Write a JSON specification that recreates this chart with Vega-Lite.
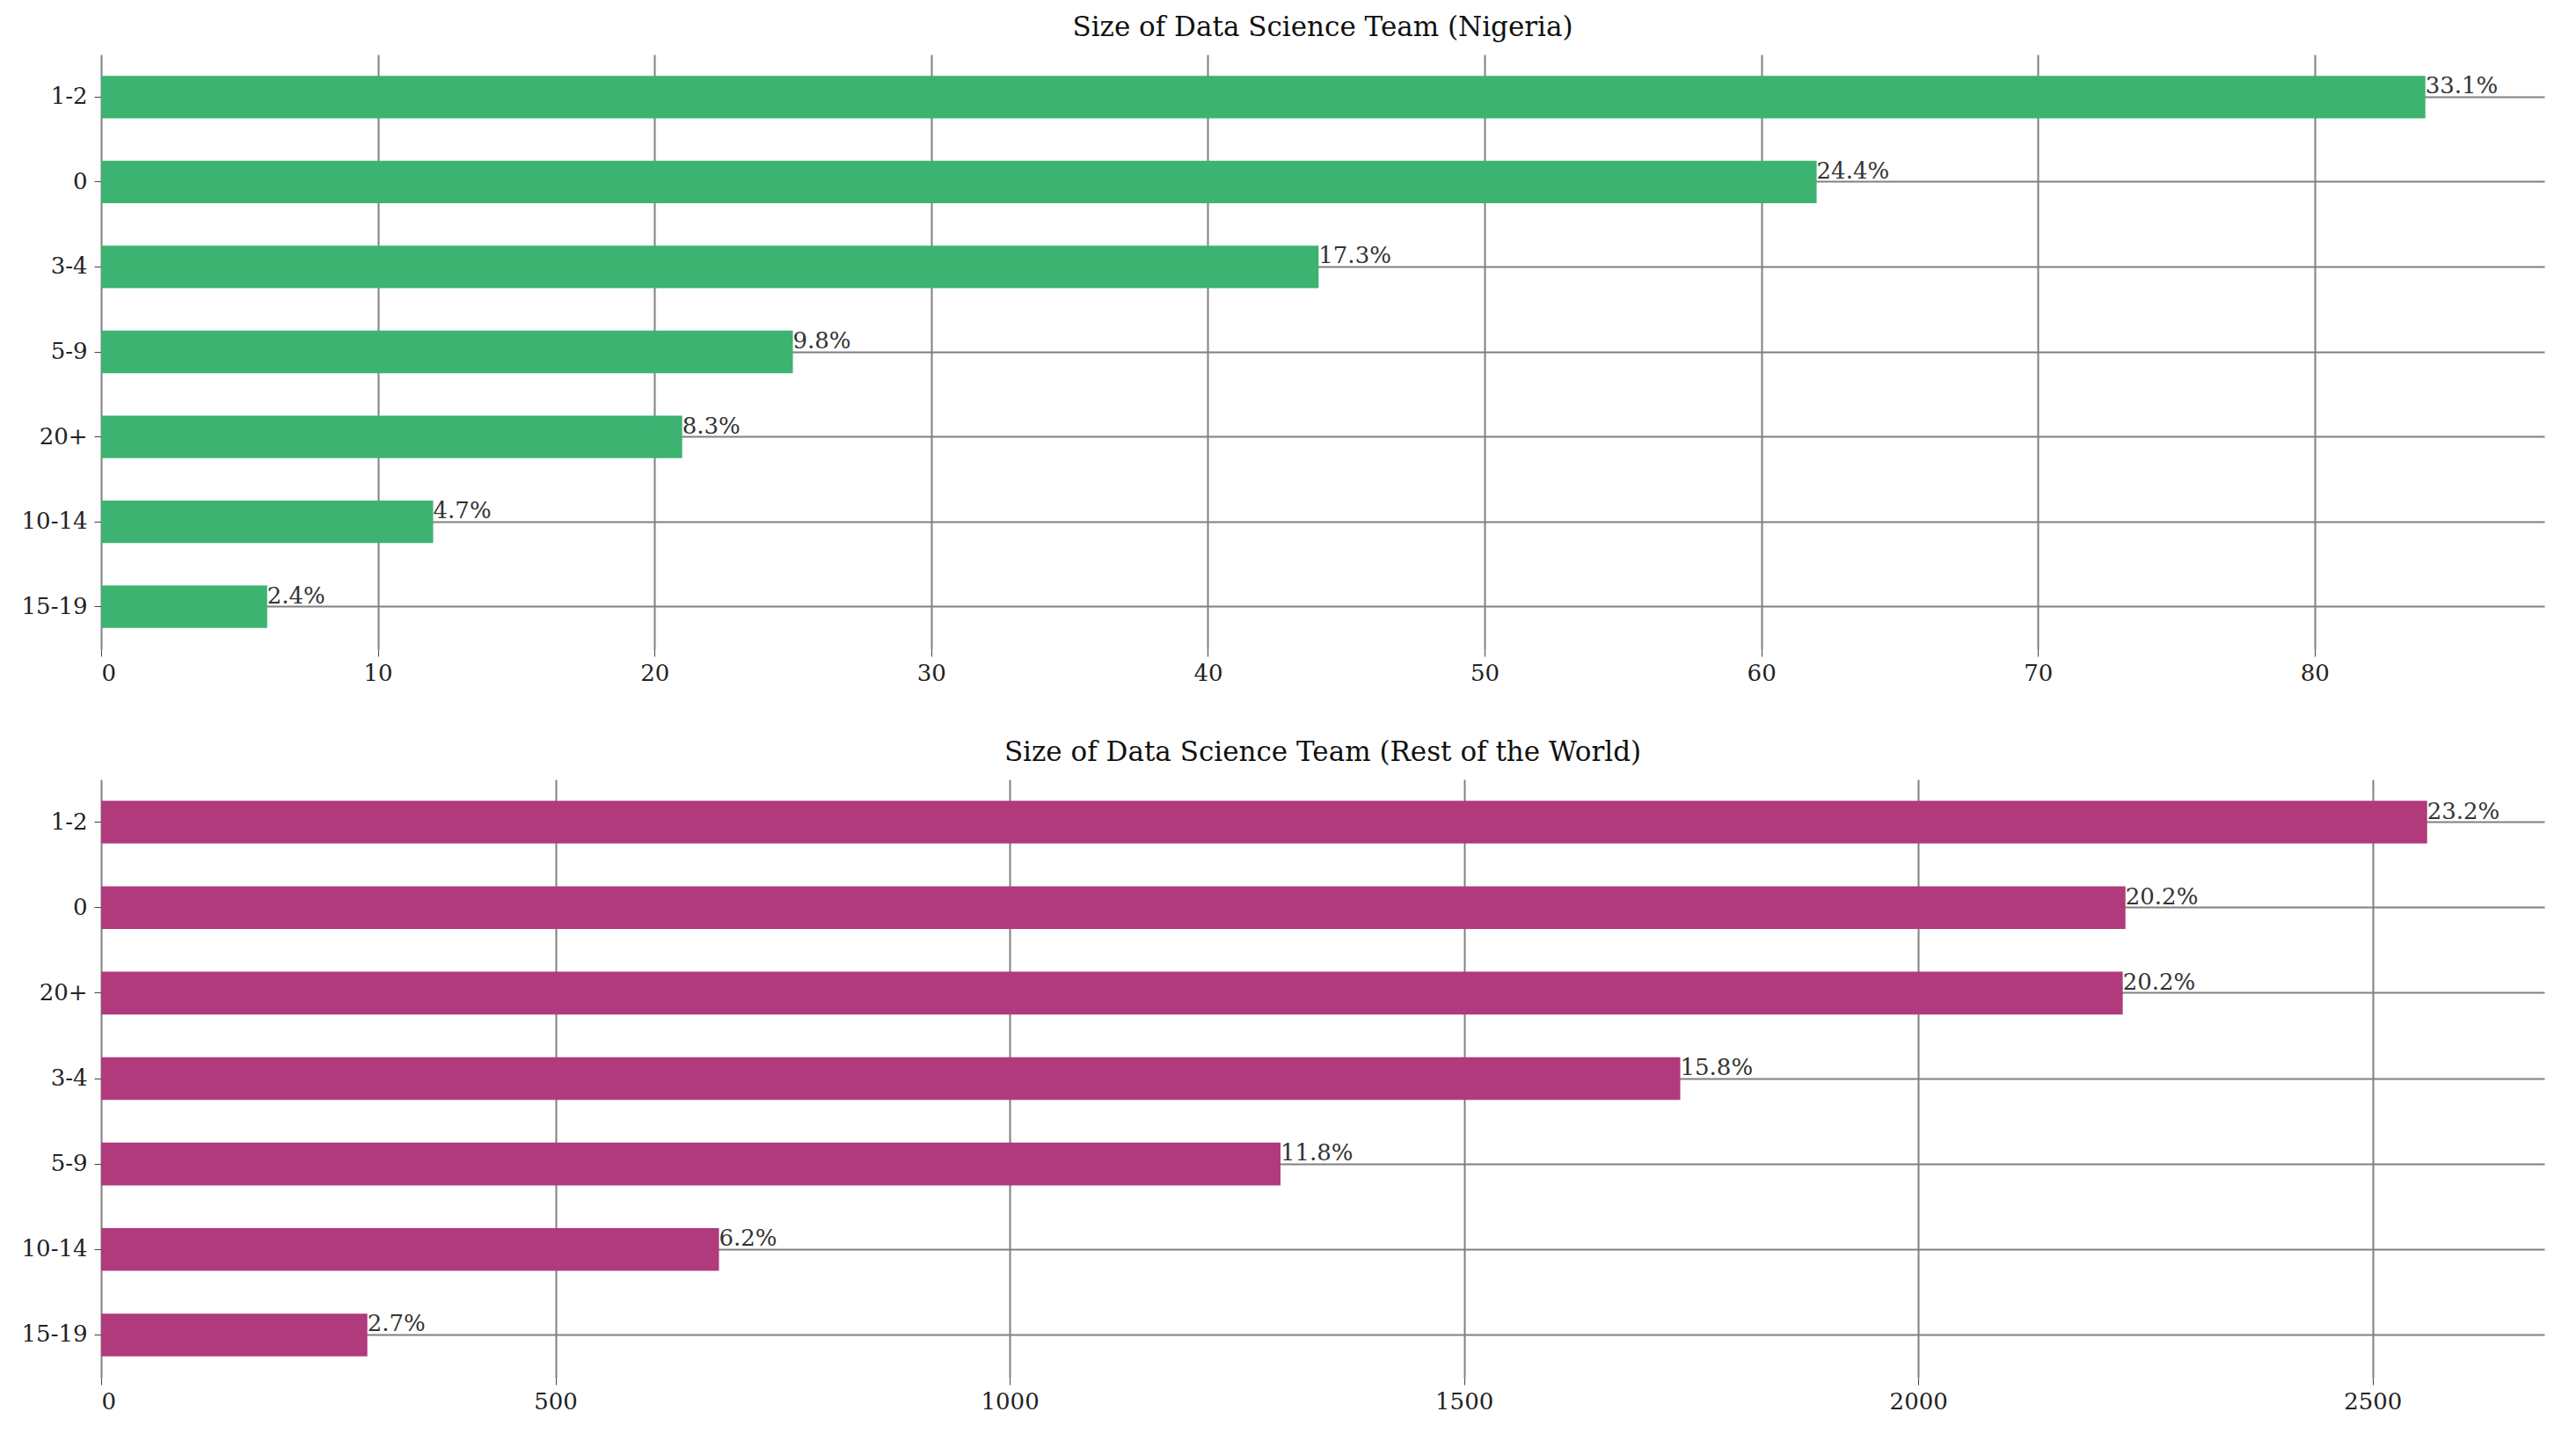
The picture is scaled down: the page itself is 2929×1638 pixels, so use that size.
{
  "$schema": "https://vega.github.io/schema/vega-lite/v6.json",
  "background": "white",
  "padding": {"left": 24, "top": 16, "right": 20, "bottom": 10},
  "config": {
    "font": "DejaVu Serif",
    "view": {"stroke": null},
    "title": {"fontSize": 31, "fontWeight": "normal", "color": "#111", "offset": 14},
    "axis": {"labelFont": "DejaVu Serif", "labelFontSize": 26, "labelColor": "#222", "domain": false, "tickColor": "#444", "tickSize": 8, "gridColor": "#808080", "gridWidth": 2, "title": null}
  },
  "vconcat": [
    {
      "title": "Size of Data Science Team (Nigeria)",
      "width": 2778, "height": 676,
      "data": {"values": [
        {"size": "1-2", "count": 84, "pct": "33.1%"},
        {"size": "0", "count": 62, "pct": "24.4%"},
        {"size": "3-4", "count": 44, "pct": "17.3%"},
        {"size": "5-9", "count": 25, "pct": "9.8%"},
        {"size": "20+", "count": 21, "pct": "8.3%"},
        {"size": "10-14", "count": 12, "pct": "4.7%"},
        {"size": "15-19", "count": 6, "pct": "2.4%"}
      ]},
      "encoding": {
        "y": {"field": "size", "type": "nominal", "sort": null, "scale": {"paddingInner": 0.5, "paddingOuter": 0.25}, "axis": {"grid": true, "bandPosition": 0.5, "labelPadding": 8}},
        "x": {"field": "count", "type": "quantitative", "scale": {"domain": [0, 88.3], "nice": false}, "axis": {"grid": true, "values": [0,10,20,30,40,50,60,70,80], "format": "d", "labelPadding": 6}}
      },
      "layer": [
        {"mark": {"type": "bar", "color": "#3cb371"}},
        {"mark": {"type": "text", "align": "left", "baseline": "middle", "dy": -12, "fontSize": 26, "color": "#333", "font": "DejaVu Serif"}, "encoding": {"text": {"field": "pct"}}}
      ]
    },
    {
      "title": "Size of Data Science Team (Rest of the World)",
      "width": 2778, "height": 680,
      "data": {"values": [
        {"size": "1-2", "count": 2560, "pct": "23.2%"},
        {"size": "0", "count": 2228, "pct": "20.2%"},
        {"size": "20+", "count": 2225, "pct": "20.2%"},
        {"size": "3-4", "count": 1738, "pct": "15.8%"},
        {"size": "5-9", "count": 1298, "pct": "11.8%"},
        {"size": "10-14", "count": 680, "pct": "6.2%"},
        {"size": "15-19", "count": 293, "pct": "2.7%"}
      ]},
      "encoding": {
        "y": {"field": "size", "type": "nominal", "sort": null, "scale": {"paddingInner": 0.5, "paddingOuter": 0.25}, "axis": {"grid": true, "bandPosition": 0.5, "labelPadding": 8}},
        "x": {"field": "count", "type": "quantitative", "scale": {"domain": [0, 2689], "nice": false}, "axis": {"grid": true, "values": [0,500,1000,1500,2000,2500], "format": "d", "labelPadding": 6}}
      },
      "layer": [
        {"mark": {"type": "bar", "color": "#b03a7c"}},
        {"mark": {"type": "text", "align": "left", "baseline": "middle", "dy": -12, "fontSize": 26, "color": "#333", "font": "DejaVu Serif"}, "encoding": {"text": {"field": "pct"}}}
      ]
    }
  ],
  "spacing": 62
}
